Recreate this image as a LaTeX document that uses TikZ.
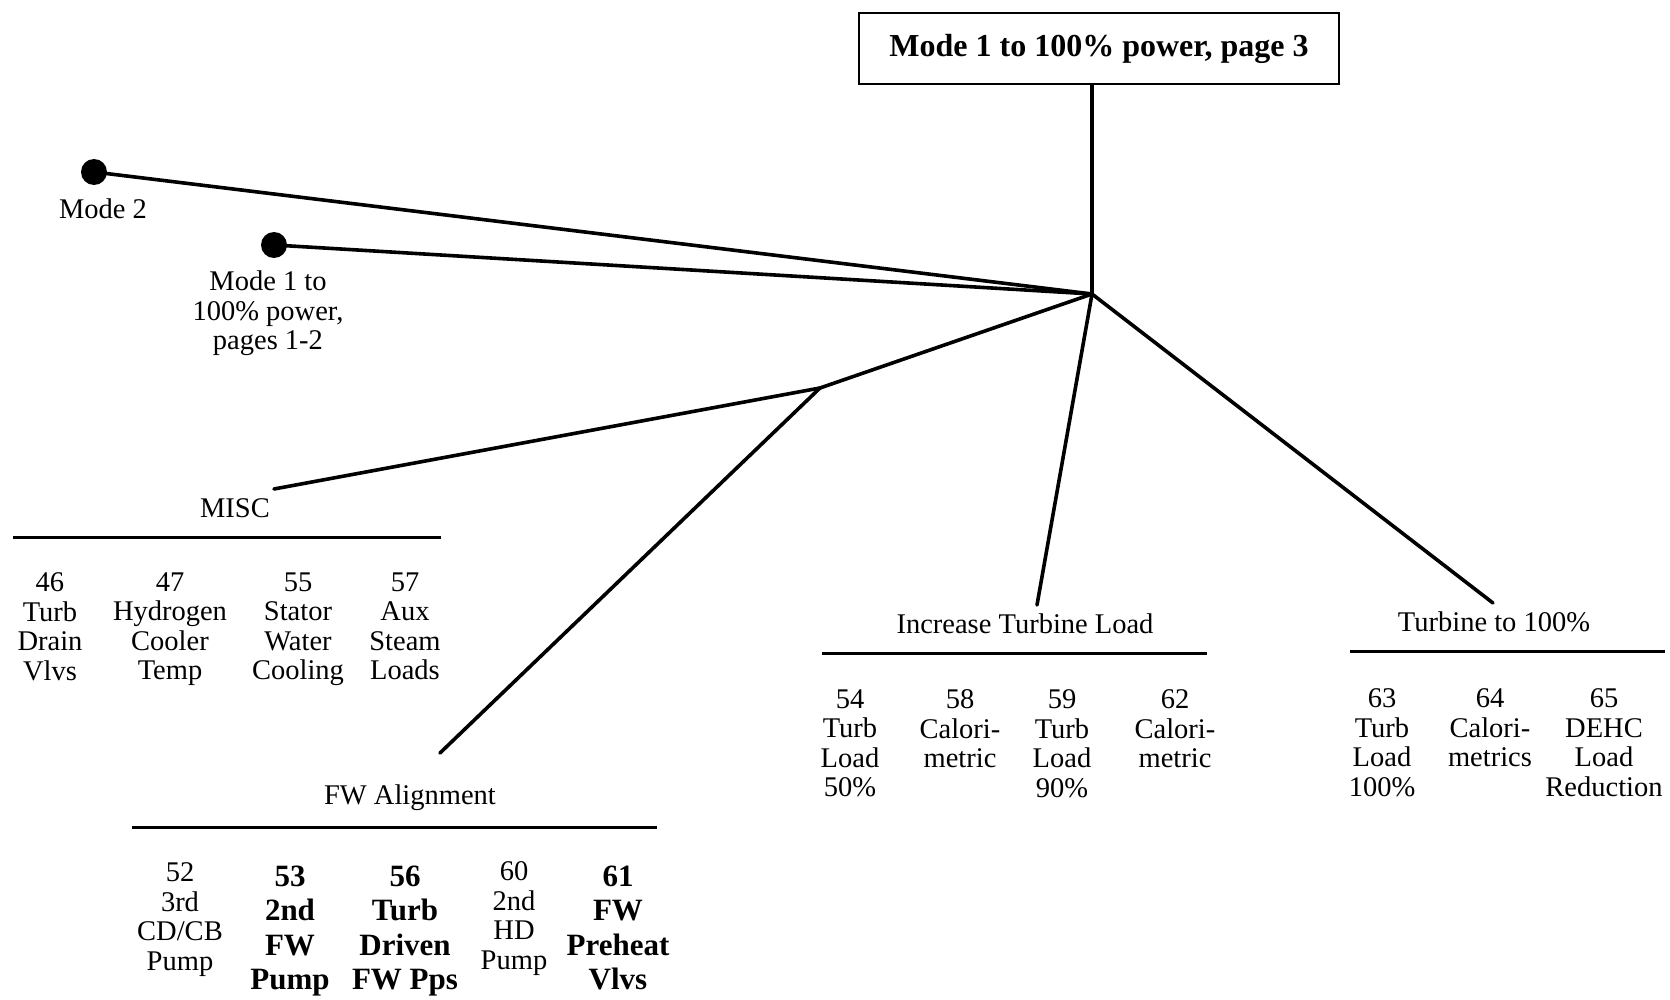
\documentclass[tikz,border=0pt]{standalone}
\usepackage{fontspec}
\setmainfont{Liberation Serif}
\begin{document}
\begin{tikzpicture}[x=1pt,y=-1pt,
  wire/.style={line width=3.6pt,line cap=round},
  rule/.style={line width=3pt},
  txt/.style={inner sep=0pt,align=center,font=\fontsize{28.5}{29.5}\selectfont},
  item/.style={txt,anchor=north},
  bolditem/.style={inner sep=0pt,align=center,anchor=north,font=\fontsize{31}{34.5}\selectfont\bfseries},
  dot/.style={circle,fill=black,inner sep=0pt,minimum size=26pt}]
\useasboundingbox (0,0) rectangle (1670,1000);

% title box and hub
\node[draw,line width=2.6pt,minimum width=480pt,minimum height=71pt,inner sep=0pt,
      font=\fontsize{32}{34}\selectfont\bfseries] (title) at (1099,48.5) {Mode 1 to 100\% power, page 3};
\coordinate (hub) at (1092,294);
\draw[wire] (title.south -| hub) -- (hub);

% previous pages
\node[dot] (m2) at (94,172) {};
\node[txt] (m2lbl) at (103,209) {Mode 2};
\node[dot] (m1) at (274,245) {};
\node[txt,anchor=north] (m1lbl) at (268,271) {Mode 1 to\\100\% power,\\pages 1-2};
\draw[wire] (m2.center) -- (hub);
\draw[wire] (m1.center) -- (hub);

% branch to MISC and FW Alignment
\coordinate (br) at (820,388);
\coordinate (miscend) at (274,489);
\coordinate (fwend) at (440,753);
\coordinate (itlend) at (1037,605);
\coordinate (t100end) at (1493,603);
\draw[wire] (hub) -- (br);
\draw[wire] (br) -- (miscend);
\draw[wire] (br) -- (fwend);
\draw[wire] (hub) -- (itlend);
\draw[wire] (hub) -- (t100end);

% MISC group
\node[txt] (misc) at (235,508) {MISC};
\coordinate (miscL) at (13,537);
\coordinate (miscR) at (441,537);
\draw[rule] (miscL) -- (miscR);
\node[item] (i46) at (50,572.5) {46\\Turb\\Drain\\Vlvs};
\node[item] (i47) at (170,572.5) {47\\Hydrogen\\Cooler\\Temp};
\node[item] (i55) at (298,572.5) {55\\Stator\\Water\\Cooling};
\node[item] (i57) at (405,572.5) {57\\Aux\\Steam\\Loads};

% FW Alignment group
\node[txt] (fw) at (410,798) {FW Alignment};
\coordinate (fwL) at (132,827);
\coordinate (fwR) at (657,827);
\draw[rule] (fwL) -- (fwR);
\node[item] (i52) at (180,862.5) {52\\3rd\\CD/CB\\Pump};
\node[bolditem] (i53) at (290,865.5) {53\\2nd\\FW\\Pump};
\node[bolditem] (i56) at (405,865.5) {56\\Turb\\Driven\\FW Pps};
\node[item] (i60) at (514,861.5) {60\\2nd\\HD\\Pump};
\node[bolditem] (i61) at (618,865.5) {61\\FW\\Preheat\\Vlvs};

% Increase Turbine Load group
\node[txt] (itl) at (1025,624) {Increase Turbine Load};
\coordinate (itlL) at (822,653);
\coordinate (itlR) at (1207,653);
\draw[rule] (itlL) -- (itlR);
\node[item] (i54) at (850,689.5) {54\\Turb\\Load\\50\%};
\node[item] (i58) at (960,689.5) {58\\Calori-\\metric};
\node[item] (i59) at (1062,689.5) {59\\Turb\\Load\\90\%};
\node[item] (i62) at (1175,689.5) {62\\Calori-\\metric};

% Turbine to 100% group
\node[txt] (t100) at (1494,622) {Turbine to 100\%};
\coordinate (t100L) at (1350,651);
\coordinate (t100R) at (1665,651);
\draw[rule] (t100L) -- (t100R);
\node[item] (i63) at (1382,688.5) {63\\Turb\\Load\\100\%};
\node[item] (i64) at (1490,688.5) {64\\Calori-\\metrics};
\node[item] (i65) at (1604,688.5) {65\\DEHC\\Load\\Reduction};
\end{tikzpicture}
\end{document}
